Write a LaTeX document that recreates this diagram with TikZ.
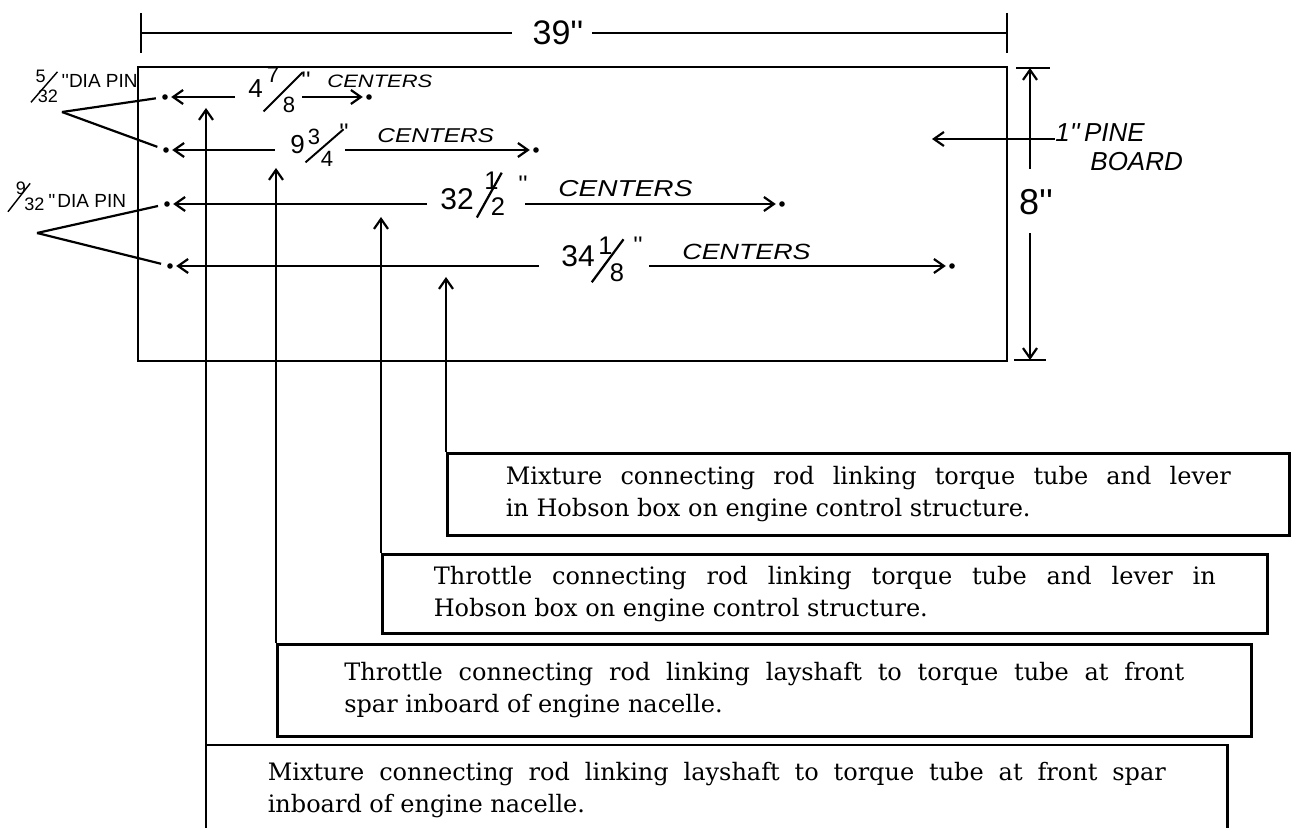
\documentclass[tikz,border=0pt]{standalone}
\usepackage{fontspec}
\usepackage{graphicx}
\usetikzlibrary{arrows.meta}
\newfontfamily\handfont{Liberation Sans}
\newfontfamily\notefont{DejaVu Serif}
\tolerance=10000 \hbadness=10000
% diagonal hand-lettered fraction:
% #1 num, #2 den, #3 slash raise, #4 slash angle, #5 slash length,
% #6 num x, #7 num raise, #8 den x, #9 den raise
\def\frs{.85}
\newcommand\dfr[9]{%
  \rlap{\raisebox{#3}{\rotatebox{#4}{\rule{#5}{.075em}}}}%
  \rlap{\hspace{#6}\raisebox{#7}{\scalebox{\frs}{#1}}}%
  \rlap{\hspace{#8}\raisebox{#9}{\scalebox{\frs}{#2}}}}
\newcommand\wide[1]{\scalebox{1.22}[1]{#1}}
\begin{document}
\begin{tikzpicture}[x=0.5pt,y=-0.5pt,
  ln/.style={line width=1.1pt},
  dimarrow/.style={line width=1.1pt,-{Straight Barb[length=5pt,width=7pt]}},
  boardline/.style={draw,line width=1.3pt},
  pin/.style={circle,fill,inner sep=0pt,minimum size=2.8pt},
  num/.style={font=\handfont\fontsize{13}{13}\selectfont,inner sep=0pt,anchor=base west},
  bignum/.style={font=\handfont\fontsize{15}{15}\selectfont,inner sep=0pt,anchor=base west},
  centers/.style={font=\handfont\itshape\fontsize{#1}{#1}\selectfont,inner sep=0pt,anchor=base west},
  inch/.style={font=\handfont\fontsize{12}{12}\selectfont,inner sep=0pt,anchor=north},
  pinlbl/.style={font=\handfont\fontsize{9.5}{9.5}\selectfont,inner sep=0pt,anchor=base west},
  note/.style={draw,line width=1.3pt,anchor=north west,align=justify,font=\notefont\fontsize{12}{16}\selectfont,inner sep=0pt},
]
\fill[white] (0,0) rectangle (1291,828);
\useasboundingbox (0,0) rectangle (1291,828);

% board
\draw[boardline] (138,67) rectangle (1007,361);

% 39 inch dimension
\node[font=\handfont\fontsize{17}{17}\selectfont,inner sep=0pt] (w39) at (558,33) {39''};
\coordinate (w39L) at (141,33);
\coordinate (w39R) at (1007,33);
\draw[ln,shorten >=10pt] (w39L) -- (w39.west);
\draw[ln,shorten <=4pt] (w39.east) -- (w39R);
\draw[ln] ([yshift=10pt]w39L) -- ([yshift=-10pt]w39L);
\draw[ln] ([yshift=10pt]w39R) -- ([yshift=-10pt]w39R);

% 8 inch dimension
\node[font=\handfont\fontsize{18}{18}\selectfont,inner sep=0pt] (h8) at (1036,202) {8''};
\coordinate (h8T) at (1030,68);
\coordinate (h8B) at (1030,360);
\draw[dimarrow,shorten <=10pt] (h8T |- h8.north) -- (h8T);
\draw[dimarrow,shorten <=9pt] (h8B |- h8.south) -- (h8B);
\draw[ln] ([xshift=-7pt]h8T) -- ([xshift=10pt]h8T);
\draw[ln] ([xshift=-8pt]h8B) -- ([xshift=8pt]h8B);

% pine board label
\node[font=\handfont\itshape\fontsize{13}{13}\selectfont,inner sep=0pt,anchor=base west] (pine) at (1055,142) {1''\,PINE};
\node[font=\handfont\itshape\fontsize{13}{13}\selectfont,inner sep=0pt,anchor=base west] (board) at (1090,171) {BOARD};
\coordinate (pineTip) at (932,139);
\draw[dimarrow] (pine.west |- pineTip) -- (pineTip);

% pins
\node[pin] (d1L) at (165,97) {};
\node[pin] (d1R) at (369,97) {};
\node[pin] (d2L) at (166,150) {};
\node[pin] (d2R) at (536,150) {};
\node[pin] (d3L) at (167,204) {};
\node[pin] (d3R) at (782,204) {};
\node[pin] (d4L) at (170,266) {};
\node[pin] (d4R) at (952,266) {};

% row 1
\node[num] (n1) at (248,98) {4\dfr{7}{8}{-.54em}{45}{2.12em}{.15em}{.58em}{.77em}{-.54em}\kern1.5em};
\node[inch] (q1) at (306,72) {''};
\node[centers=9] (c1) at (327,88) {\wide{CENTERS}};
\draw[dimarrow,shorten <=6.5pt,shorten >=1.5pt] (n1.west |- d1L) -- (d1L);
\draw[dimarrow,shorten >=1.5pt] (n1.east |- d1R) -- (d1R);

% row 2
\node[num] (n2) at (290,154) {9\dfr{3}{4}{-.35em}{41}{1.94em}{.12em}{.35em}{.62em}{-.5em}\kern1.46em};
\node[inch] (q2) at (344,124) {''};
\node[centers=10] (c2) at (377,143) {\wide{CENTERS}};
\draw[dimarrow,shorten <=7.5pt,shorten >=1.5pt] (n2.west |- d2L) -- (d2L);
\draw[dimarrow,shorten <=1pt,shorten >=1.5pt] (n2.east |- d2R) -- (d2R);

% row 3
\node[bignum] (n3) at (440,210) {32\kern.07em\dfr{1}{2}{-.27em}{61}{1.71em}{.28em}{.67em}{.5em}{-.17em}\kern.9em};
\node[inch] (q3) at (523,176) {''};
\node[centers=11.5] (c3) at (558,197) {\wide{CENTERS}};
\draw[dimarrow,shorten <=6.5pt,shorten >=1.5pt] (n3.west |- d3L) -- (d3L);
\draw[dimarrow,shorten <=11pt,shorten >=1.5pt] (n3.east |- d3R) -- (d3R);

% row 4
\node[bignum] (n4) at (561,267) {34\kern-.13em\dfr{1}{8}{-.53em}{53.5}{1.78em}{.25em}{.42em}{.63em}{-.5em}\kern1.06em};
\node[inch] (q4) at (638,237) {''};
\node[centers=11] (c4) at (682,260) {\wide{CENTERS}};
\draw[dimarrow,shorten <=11pt,shorten >=1.5pt] (n4.west |- d4L) -- (d4L);
\draw[dimarrow,shorten <=13pt,shorten >=1.5pt] (n4.east |- d4R) -- (d4R);

% pin labels
\node[pinlbl] (p1) at (30,88) {{\def\frs{.95}\dfr{5}{32}{-.78em}{49}{2.13em}{.28em}{.28em}{.39em}{-.78em}}\kern1.65em''DIA PIN};
\node[pinlbl] (p2) at (7,208) {{\def\frs{.95}\dfr{9}{32}{-.22em}{52}{1.9em}{.44em}{.72em}{.89em}{-.11em}}\kern2.15em''\kern.1em DIA PIN};
\coordinate (v1) at (62,112);
\coordinate (v2) at (37,233);
\draw[ln,shorten >=3pt] (v1) -- (d1L);
\draw[ln,shorten >=3pt] (v1) -- (d2L);
\draw[ln,shorten >=3pt] (v2) -- (d3L);
\draw[ln,shorten >=3pt] (v2) -- (d4L);

% note boxes
\node[note,minimum width=421pt,minimum height=41pt,text width=362.5pt] (b1) at (446,452)
  {Mixture connecting rod linking torque tube and lever\linebreak in Hobson box on engine control structure.};
\node[note,minimum width=442.5pt,minimum height=39.5pt,text width=391pt] (b2) at (381,553)
  {Throttle connecting rod linking torque tube and lever in\linebreak Hobson box on engine control structure.};
\node[note,minimum width=487pt,minimum height=46pt,text width=420pt] (b3) at (276,643)
  {Throttle connecting rod linking layshaft to torque tube at front\linebreak spar inboard of engine nacelle.};
\node[note,draw=none,minimum width=509.5pt,minimum height=44pt,text width=449pt] (b4) at (206,745)
  {Mixture connecting rod linking layshaft to torque tube at front spar\linebreak inboard of engine nacelle.};
\draw[line width=1.3pt] (b4.south west) -- (b4.north west) -- (b4.north east) -- (b4.south east);

% leaders
\coordinate (tA) at (206,108);
\coordinate (tB) at (276,168);
\coordinate (tC) at (381,217);
\coordinate (tD) at (446,277);
\draw[dimarrow] (b4.north west) -- (tA);
\draw[dimarrow] (b3.north west) -- (tB);
\draw[dimarrow] (b2.north west) -- (tC);
\draw[dimarrow] (b1.north west) -- (tD);
\end{tikzpicture}
\end{document}
